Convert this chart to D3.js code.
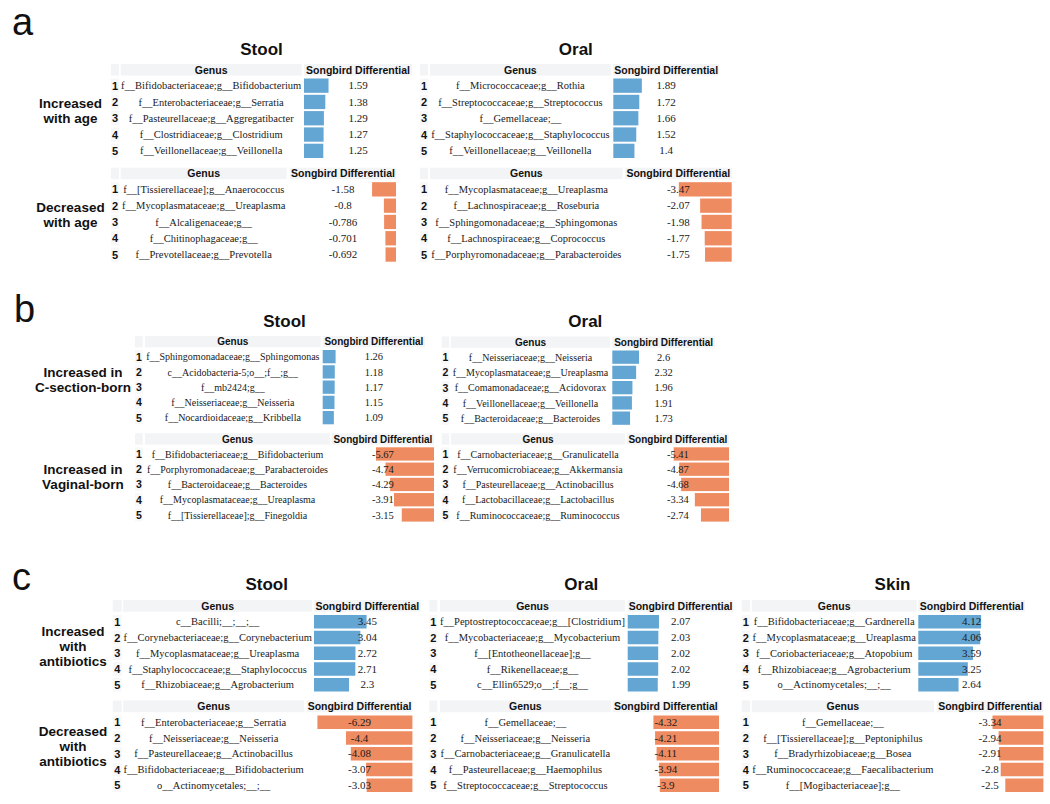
<!DOCTYPE html>
<html><head><meta charset="utf-8">
<script src="https://cdn.jsdelivr.net/npm/d3@7"></script>
<style>body{margin:0;background:#fff}</style>
</head><body>
<svg id="chart" width="1050" height="804"></svg>
<script>
// ---------- DATA ----------
const aStoolIncGenus = ["f__Bifidobacteriaceae;g__Bifidobacterium","f__Enterobacteriaceae;g__Serratia","f__Pasteurellaceae;g__Aggregatibacter","f__Clostridiaceae;g__Clostridium","f__Veillonellaceae;g__Veillonella"];
const aStoolIncValues = [1.59, 1.38, 1.29, 1.27, 1.25];
const aStoolDecGenus = ["f__[Tissierellaceae];g__Anaerococcus","f__Mycoplasmataceae;g__Ureaplasma","f__Alcaligenaceae;g__","f__Chitinophagaceae;g__","f__Prevotellaceae;g__Prevotella"];
const aStoolDecValues = [-1.58, -0.8, -0.786, -0.701, -0.692];
const aOralIncGenus = ["f__Micrococcaceae;g__Rothia","f__Streptococcaceae;g__Streptococcus","f__Gemellaceae;__","f__Staphylococcaceae;g__Staphylococcus","f__Veillonellaceae;g__Veillonella"];
const aOralIncValues = [1.89, 1.72, 1.66, 1.52, 1.4];
const aOralDecGenus = ["f__Mycoplasmataceae;g__Ureaplasma","f__Lachnospiraceae;g__Roseburia","f__Sphingomonadaceae;g__Sphingomonas","f__Lachnospiraceae;g__Coprococcus","f__Porphyromonadaceae;g__Parabacteroides"];
const aOralDecValues = [-3.47, -2.07, -1.98, -1.77, -1.75];

const bStoolCGenus = ["f__Sphingomonadaceae;g__Sphingomonas","c__Acidobacteria-5;o__;f__;g__","f__mb2424;g__","f__Neisseriaceae;g__Neisseria","f__Nocardioidaceae;g__Kribbella"];
const bStoolCValues = [1.26, 1.18, 1.17, 1.15, 1.09];
const bStoolVGenus = ["f__Bifidobacteriaceae;g__Bifidobacterium","f__Porphyromonadaceae;g__Parabacteroides","f__Bacteroidaceae;g__Bacteroides","f__Mycoplasmataceae;g__Ureaplasma","f__[Tissierellaceae];g__Finegoldia"];
const bStoolVValues = [-5.67, -4.74, -4.29, -3.91, -3.15];
const bOralCGenus = ["f__Neisseriaceae;g__Neisseria","f__Mycoplasmataceae;g__Ureaplasma","f__Comamonadaceae;g__Acidovorax","f__Veillonellaceae;g__Veillonella","f__Bacteroidaceae;g__Bacteroides"];
const bOralCValues = [2.6, 2.32, 1.96, 1.91, 1.73];
const bOralVGenus = ["f__Carnobacteriaceae;g__Granulicatella","f__Verrucomicrobiaceae;g__Akkermansia","f__Pasteurellaceae;g__Actinobacillus","f__Lactobacillaceae;g__Lactobacillus","f__Ruminococcaceae;g__Ruminococcus"];
const bOralVValues = [-5.41, -4.87, -4.68, -3.34, -2.74];

const cStoolIncGenus = ["c__Bacilli;__;__;__","f__Corynebacteriaceae;g__Corynebacterium","f__Mycoplasmataceae;g__Ureaplasma","f__Staphylococcaceae;g__Staphylococcus","f__Rhizobiaceae;g__Agrobacterium"];
const cStoolIncValues = [3.45, 3.04, 2.72, 2.71, 2.3];
const cStoolDecGenus = ["f__Enterobacteriaceae;g__Serratia","f__Neisseriaceae;g__Neisseria","f__Pasteurellaceae;g__Actinobacillus","f__Bifidobacteriaceae;g__Bifidobacterium","o__Actinomycetales;__;__"];
const cStoolDecValues = [-6.29, -4.4, -4.08, -3.07, -3.03];
const cOralIncGenus = ["f__Peptostreptococcaceae;g__[Clostridium]","f__Mycobacteriaceae;g__Mycobacterium","f__[Entotheonellaceae];g__","f__Rikenellaceae;g__","c__Ellin6529;o__;f__;g__"];
const cOralIncValues = [2.07, 2.03, 2.02, 2.02, 1.99];
const cOralDecGenus = ["f__Gemellaceae;__","f__Neisseriaceae;g__Neisseria","f__Carnobacteriaceae;g__Granulicatella","f__Pasteurellaceae;g__Haemophilus","f__Streptococcaceae;g__Streptococcus"];
const cOralDecValues = [-4.32, -4.21, -4.11, -3.94, -3.9];
const cSkinIncGenus = ["f__Bifidobacteriaceae;g__Gardnerella","f__Mycoplasmataceae;g__Ureaplasma","f__Coriobacteriaceae;g__Atopobium","f__Rhizobiaceae;g__Agrobacterium","o__Actinomycetales;__;__"];
const cSkinIncValues = [4.12, 4.06, 3.59, 3.25, 2.64];
const cSkinDecGenus = ["f__Gemellaceae;__","f__[Tissierellaceae];g__Peptoniphilus","f__Bradyrhizobiaceae;g__Bosea","f__Ruminococcaceae;g__Faecalibacterium","f__[Mogibacteriaceae];g__"];
const cSkinDecValues = [-3.34, -2.94, -2.91, -2.8, -2.5];

const ranks = ["1","2","3","4","5"];
const headerLabels = ["Genus", "Songbird Differential"];
const panelLetters = ["a", "b", "c"];
const siteTitles = ["Stool", "Oral", "Skin"];
const aRowLabels = [["Increased","with age"],["Decreased","with age"]];
const bRowLabels = [["Increased in","C-section-born"],["Increased in","Vaginal-born"]];
const cRowLabels = [["Increased","with","antibiotics"],["Decreased","with","antibiotics"]];

// ---------- LAYOUT ----------
const panels = {
  a: {headerH:11.5, gap:3, pitch:16.3, barH:14.3, vmax:7,  font:10.5, letterY:34.5, letterX:12, titleY:55, labelX:70.5, labelBase:[108,212], lineH:15, labels:aRowLabels},
  b: {headerH:11.3, gap:2.7, pitch:15.25, barH:13.3, vmax:10, font:10, letterY:322, letterX:14, titleY:327, labelX:83, labelBase:[377,474], lineH:15, labels:bRowLabels},
  c: {headerH:11.7, gap:3.3, pitch:15.75, barH:13.5, vmax:7, font:10.5, letterY:590, letterX:12, titleY:590, labelX:73, labelBase:[636,736], lineH:15, labels:cRowLabels}
};
const tables = [
  {panel:"a", site:0, block:0, genus:aStoolIncGenus, values:aStoolIncValues, top:64,    idxX:111,   idxW:8,   gX:120.7, gW:181,   bX:304,   bW:108},
  {panel:"a", site:0, block:1, genus:aStoolDecGenus, values:aStoolDecValues, top:167.7, idxX:111,   idxW:8,   gX:120.7, gW:166,   bX:290,   bW:106},
  {panel:"a", site:1, block:0, genus:aOralIncGenus,  values:aOralIncValues,  top:64,    idxX:420,   idxW:8,   gX:430,   gW:180.7, bX:613.3, bW:105.7},
  {panel:"a", site:1, block:1, genus:aOralDecGenus,  values:aOralDecValues,  top:167.7, idxX:420,   idxW:8,   gX:430,   gW:192.7, bX:625,   bW:106.7},
  {panel:"b", site:0, block:0, genus:bStoolCGenus,   values:bStoolCValues,   top:336,   idxX:135,   idxW:7.7, gX:145,   gW:175.7, bX:322.7, bW:102.3},
  {panel:"b", site:0, block:1, genus:bStoolVGenus,   values:bStoolVValues,   top:433.3, idxX:135,   idxW:7.7, gX:145,   gW:185,   bX:331.7, bW:102.3},
  {panel:"b", site:1, block:0, genus:bOralCGenus,    values:bOralCValues,    top:336.5, idxX:441.7, idxW:7.6, gX:451,   gW:159,   bX:612.3, bW:102.7},
  {panel:"b", site:1, block:1, genus:bOralVGenus,    values:bOralVValues,    top:433.3, idxX:441.7, idxW:7.6, gX:451,   gW:174,   bX:626.7, bW:102.3},
  {panel:"c", site:0, block:0, genus:cStoolIncGenus, values:cStoolIncValues, top:600,   idxX:112.7, idxW:9,   gX:123.3, gW:188.7, bX:314,   bW:106.7},
  {panel:"c", site:0, block:1, genus:cStoolDecGenus, values:cStoolDecValues, top:700.5, idxX:112.7, idxW:9,   gX:123.3, gW:180.7, bX:306.7, bW:105.7},
  {panel:"c", site:1, block:0, genus:cOralIncGenus,  values:cOralIncValues,  top:600,   idxX:429.3, idxW:8,   gX:440,   gW:185,   bX:627.7, bW:105.7},
  {panel:"c", site:1, block:1, genus:cOralDecGenus,  values:cOralDecValues,  top:700.5, idxX:429.3, idxW:8,   gX:440,   gW:170.7, bX:612.7, bW:106.3},
  {panel:"c", site:2, block:0, genus:cSkinIncGenus,  values:cSkinIncValues,  top:600,   idxX:741.7, idxW:8.3, gX:751.7, gW:165,   bX:918.3, bW:106.7},
  {panel:"c", site:2, block:1, genus:cSkinDecGenus,  values:cSkinDecValues,  top:700.5, idxX:741.7, idxW:8.3, gX:751.7, gW:182.3, bX:936.7, bW:106.7}
];

const SANS = "'Liberation Sans', Arial, Helvetica, sans-serif";
const SERIF = "'Liberation Serif', 'Times New Roman', serif";
const HEAD_BG = "#f3f4f6";
const IDX_BG = "#f8f8f8";
const POS_COLOR = "#63a5d3";
const NEG_COLOR = "#ef8b60";

const svg = d3.select("#chart");

// panel letters and row labels
Object.keys(panels).forEach((k, i) => {
  const P = panels[k];
  svg.append("text").attr("x", P.letterX).attr("y", P.letterY)
    .attr("font-family", SANS).attr("font-size", 38).attr("fill", "#111")
    .text(panelLetters[i]);
  P.labels.forEach((lines, bi) => {
    const t = svg.append("text").attr("text-anchor", "middle")
      .attr("font-family", SANS).attr("font-weight", "bold")
      .attr("font-size", 13.5).attr("fill", "#111");
    lines.forEach((ln, li) => {
      t.append("tspan").attr("x", P.labelX).attr("y", P.labelBase[bi] + li * P.lineH).text(ln);
    });
  });
});

// site titles: centred over the union of the two tables of a site
d3.groups(tables, d => d.panel + d.site).forEach(([key, ts]) => {
  const P = panels[ts[0].panel];
  const x0 = d3.min(ts, t => t.idxX);
  const x1 = d3.max(ts, t => t.bX + t.bW);
  svg.append("text").attr("x", (x0 + x1) / 2).attr("y", P.titleY)
    .attr("text-anchor", "middle").attr("font-family", SANS).attr("font-weight", "bold")
    .attr("font-size", 17).attr("fill", "#111").text(siteTitles[ts[0].site]);
});

// tables
tables.forEach(T => {
  const P = panels[T.panel];
  const g = svg.append("g");
  const hTop = T.top;
  g.append("rect").attr("x", T.idxX).attr("y", hTop).attr("width", T.idxW).attr("height", P.headerH).attr("fill", HEAD_BG);
  g.append("rect").attr("x", T.gX).attr("y", hTop).attr("width", T.gW).attr("height", P.headerH).attr("fill", HEAD_BG);
  g.append("rect").attr("x", T.bX).attr("y", hTop).attr("width", T.bW).attr("height", P.headerH).attr("fill", HEAD_BG);
  g.append("text").attr("x", T.gX + T.gW / 2).attr("y", hTop + P.headerH - 2)
    .attr("text-anchor", "middle").attr("font-family", SANS).attr("font-weight", "bold")
    .attr("font-size", P.font).attr("fill", "#111").text(headerLabels[0]);
  g.append("text").attr("x", T.bX + T.bW / 2).attr("y", hTop + P.headerH - 2)
    .attr("text-anchor", "middle").attr("font-family", SANS).attr("font-weight", "bold")
    .attr("font-size", P.font).attr("fill", "#111").text(headerLabels[1]);

  const rowTop = hTop + P.headerH + P.gap;
  const pad = (P.pitch - P.barH) / P.pitch;
  const y = d3.scaleBand().domain(ranks)
    .range([rowTop, rowTop + 5 * P.pitch - (P.pitch - P.barH)])
    .paddingInner(pad).paddingOuter(0);
  const x = d3.scaleLinear().domain([0, P.vmax]).range([0, T.bW]);

  const rows = g.selectAll("g.row").data(T.values.map((v, i) => ({v, name: T.genus[i], r: ranks[i]})))
    .enter().append("g").attr("class", "row");

  rows.append("rect").attr("x", T.idxX).attr("y", d => y(d.r)).attr("width", T.idxW)
    .attr("height", y.bandwidth()).attr("fill", IDX_BG);
  rows.append("text").attr("x", T.idxX + T.idxW / 2).attr("y", d => y(d.r) + y.bandwidth() / 2 + 4)
    .attr("text-anchor", "middle").attr("font-family", SANS).attr("font-weight", "bold")
    .attr("font-size", P.font + 0.5).attr("fill", "#111").text(d => d.r);

  rows.append("text").attr("x", T.gX + T.gW / 2).attr("y", d => y(d.r) + y.bandwidth() / 2 + 3.6)
    .attr("text-anchor", "middle").attr("font-family", SERIF)
    .attr("font-size", P.font).attr("fill", "#1a1a1a").text(d => d.name);

  rows.append("rect")
    .attr("x", d => d.v >= 0 ? T.bX : T.bX + T.bW - x(Math.abs(d.v)))
    .attr("y", d => y(d.r))
    .attr("width", d => x(Math.abs(d.v)))
    .attr("height", y.bandwidth())
    .attr("fill", d => d.v >= 0 ? POS_COLOR : NEG_COLOR);

  rows.append("text").attr("x", T.bX + T.bW / 2).attr("y", d => y(d.r) + y.bandwidth() / 2 + 3.6)
    .attr("text-anchor", "middle").attr("font-family", SERIF)
    .attr("font-size", P.font + 0.5).attr("fill", "#1a1a1a").text(d => d.v);
});
</script>
</body></html>
